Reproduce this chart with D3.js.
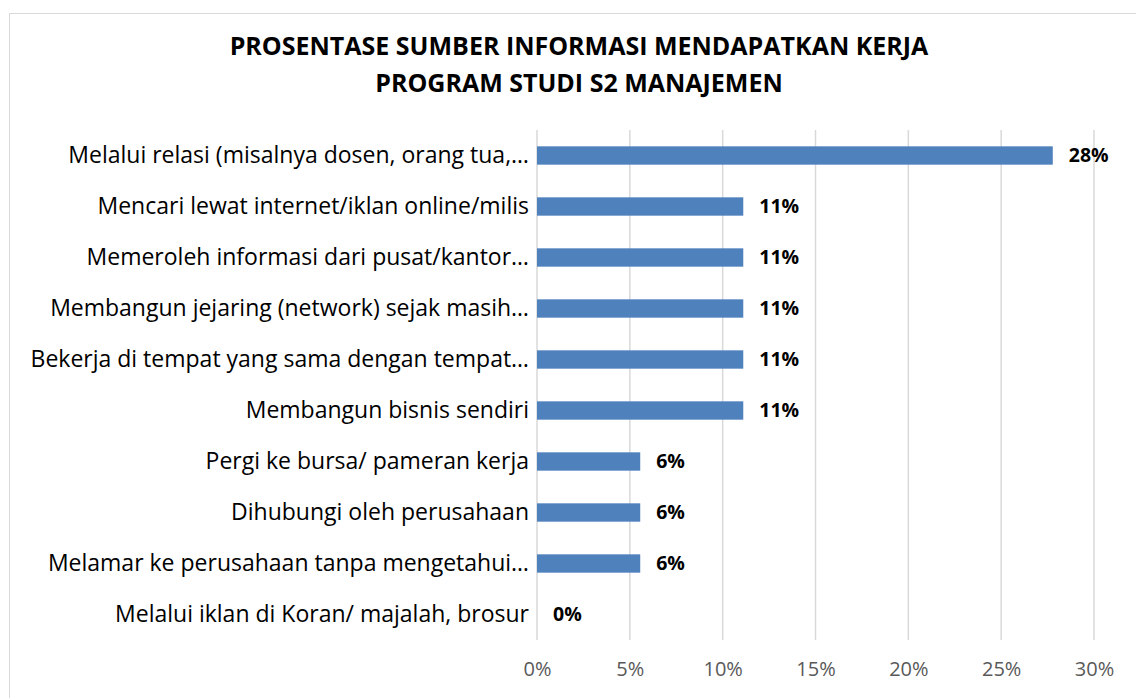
<!DOCTYPE html>
<html>
<head>
<meta charset="utf-8">
<script src="https://cdnjs.cloudflare.com/ajax/libs/d3/7.8.5/d3.min.js"></script>
<style>
  body { margin: 0; background: #fff; font-family: 'Open Sans', sans-serif; }
</style>
</head>
<body>
<svg id="chart" width="1136" height="698"></svg>
<script>
// categories top to bottom (labels as shown, truncated like the original)
var categories = [
  "Melalui relasi (misalnya dosen, orang tua,\u2026",
  "Mencari lewat internet/iklan online/milis",
  "Memeroleh informasi dari pusat/kantor\u2026",
  "Membangun jejaring (network) sejak masih\u2026",
  "Bekerja di tempat yang sama dengan tempat\u2026",
  "Membangun bisnis sendiri",
  "Pergi ke bursa/ pameran kerja",
  "Dihubungi oleh perusahaan",
  "Melamar ke perusahaan tanpa mengetahui\u2026",
  "Melalui iklan di Koran/ majalah, brosur"
];
var values = [0.2778, 0.1111, 0.1111, 0.1111, 0.1111, 0.1111, 0.0556, 0.0556, 0.0556, 0];
var xTicks = [0, 0.05, 0.10, 0.15, 0.20, 0.25, 0.30];
var titleLines = ["PROSENTASE SUMBER INFORMASI MENDAPATKAN KERJA", "PROGRAM STUDI S2 MANAJEMEN"];

var font = "'Open Sans', sans-serif";
var svg = d3.select("#chart");
var margin = {top: 130, left: 537, right: 42, bottom: 58};
var width = 1136 - margin.left - margin.right,
    height = 698 - margin.top - margin.bottom;

// outer chart border
svg.append("rect")
  .attr("x", 9.5).attr("y", 13.5)
  .attr("width", 1140).attr("height", 700)
  .attr("fill", "none").attr("stroke", "#d9d9d9");

// title
svg.append("g").selectAll("text")
  .data(titleLines)
  .enter().append("text")
    .attr("x", 579)
    .attr("y", function (d, i) { return 55 + i * 37; })
    .attr("text-anchor", "middle")
    .style("font-family", font)
    .style("font-size", "25px")
    .style("font-weight", "bold")
    .style("fill", "#000")
    .text(function (d) { return d; });

var g = svg.append("g")
  .attr("transform", "translate(" + margin.left + "," + margin.top + ")");

var x = d3.scaleLinear().domain([0, 0.30]).range([0, width]);
var y = d3.scaleBand().domain(categories).range([0, height]).paddingInner(0.64).paddingOuter(0.32);

// gridlines
g.append("g").selectAll("line")
  .data(xTicks)
  .enter().append("line")
    .attr("x1", function (d) { return x(d); })
    .attr("x2", function (d) { return x(d); })
    .attr("y1", 0).attr("y2", height)
    .attr("stroke", "#d9d9d9").attr("stroke-width", 1.5);

// x axis labels
var xAxis = g.append("g")
  .attr("transform", "translate(0," + height + ")")
  .call(d3.axisBottom(x).tickValues(xTicks).tickFormat(d3.format(".0%")).tickSize(0).tickPadding(22));
xAxis.select(".domain").remove();
xAxis.selectAll("text").style("font-size", "20px").style("fill", "#595959").style("font-family", font);

// category labels
var yAxis = g.append("g")
  .call(d3.axisLeft(y).tickSize(0).tickPadding(8));
yAxis.select(".domain").remove();
yAxis.selectAll("text").style("font-size", "23px").style("fill", "#000").style("font-family", font);

// bars
g.append("g").selectAll("rect")
  .data(values)
  .enter().append("rect")
    .attr("x", 0)
    .attr("y", function (d, i) { return y(categories[i]); })
    .attr("width", function (d) { return x(d); })
    .attr("height", y.bandwidth())
    .attr("fill", "#4f81bd");

// value labels
g.append("g").selectAll("text")
  .data(values)
  .enter().append("text")
    .attr("x", function (d) { return x(d) + 16; })
    .attr("y", function (d, i) { return y(categories[i]) + y.bandwidth() / 2; })
    .attr("dy", "0.35em")
    .style("font-family", font)
    .style("font-size", "19.5px")
    .style("font-weight", "bold")
    .style("fill", "#000")
    .text(function (d) { return d3.format(".0%")(d); });
</script>
</body>
</html>
